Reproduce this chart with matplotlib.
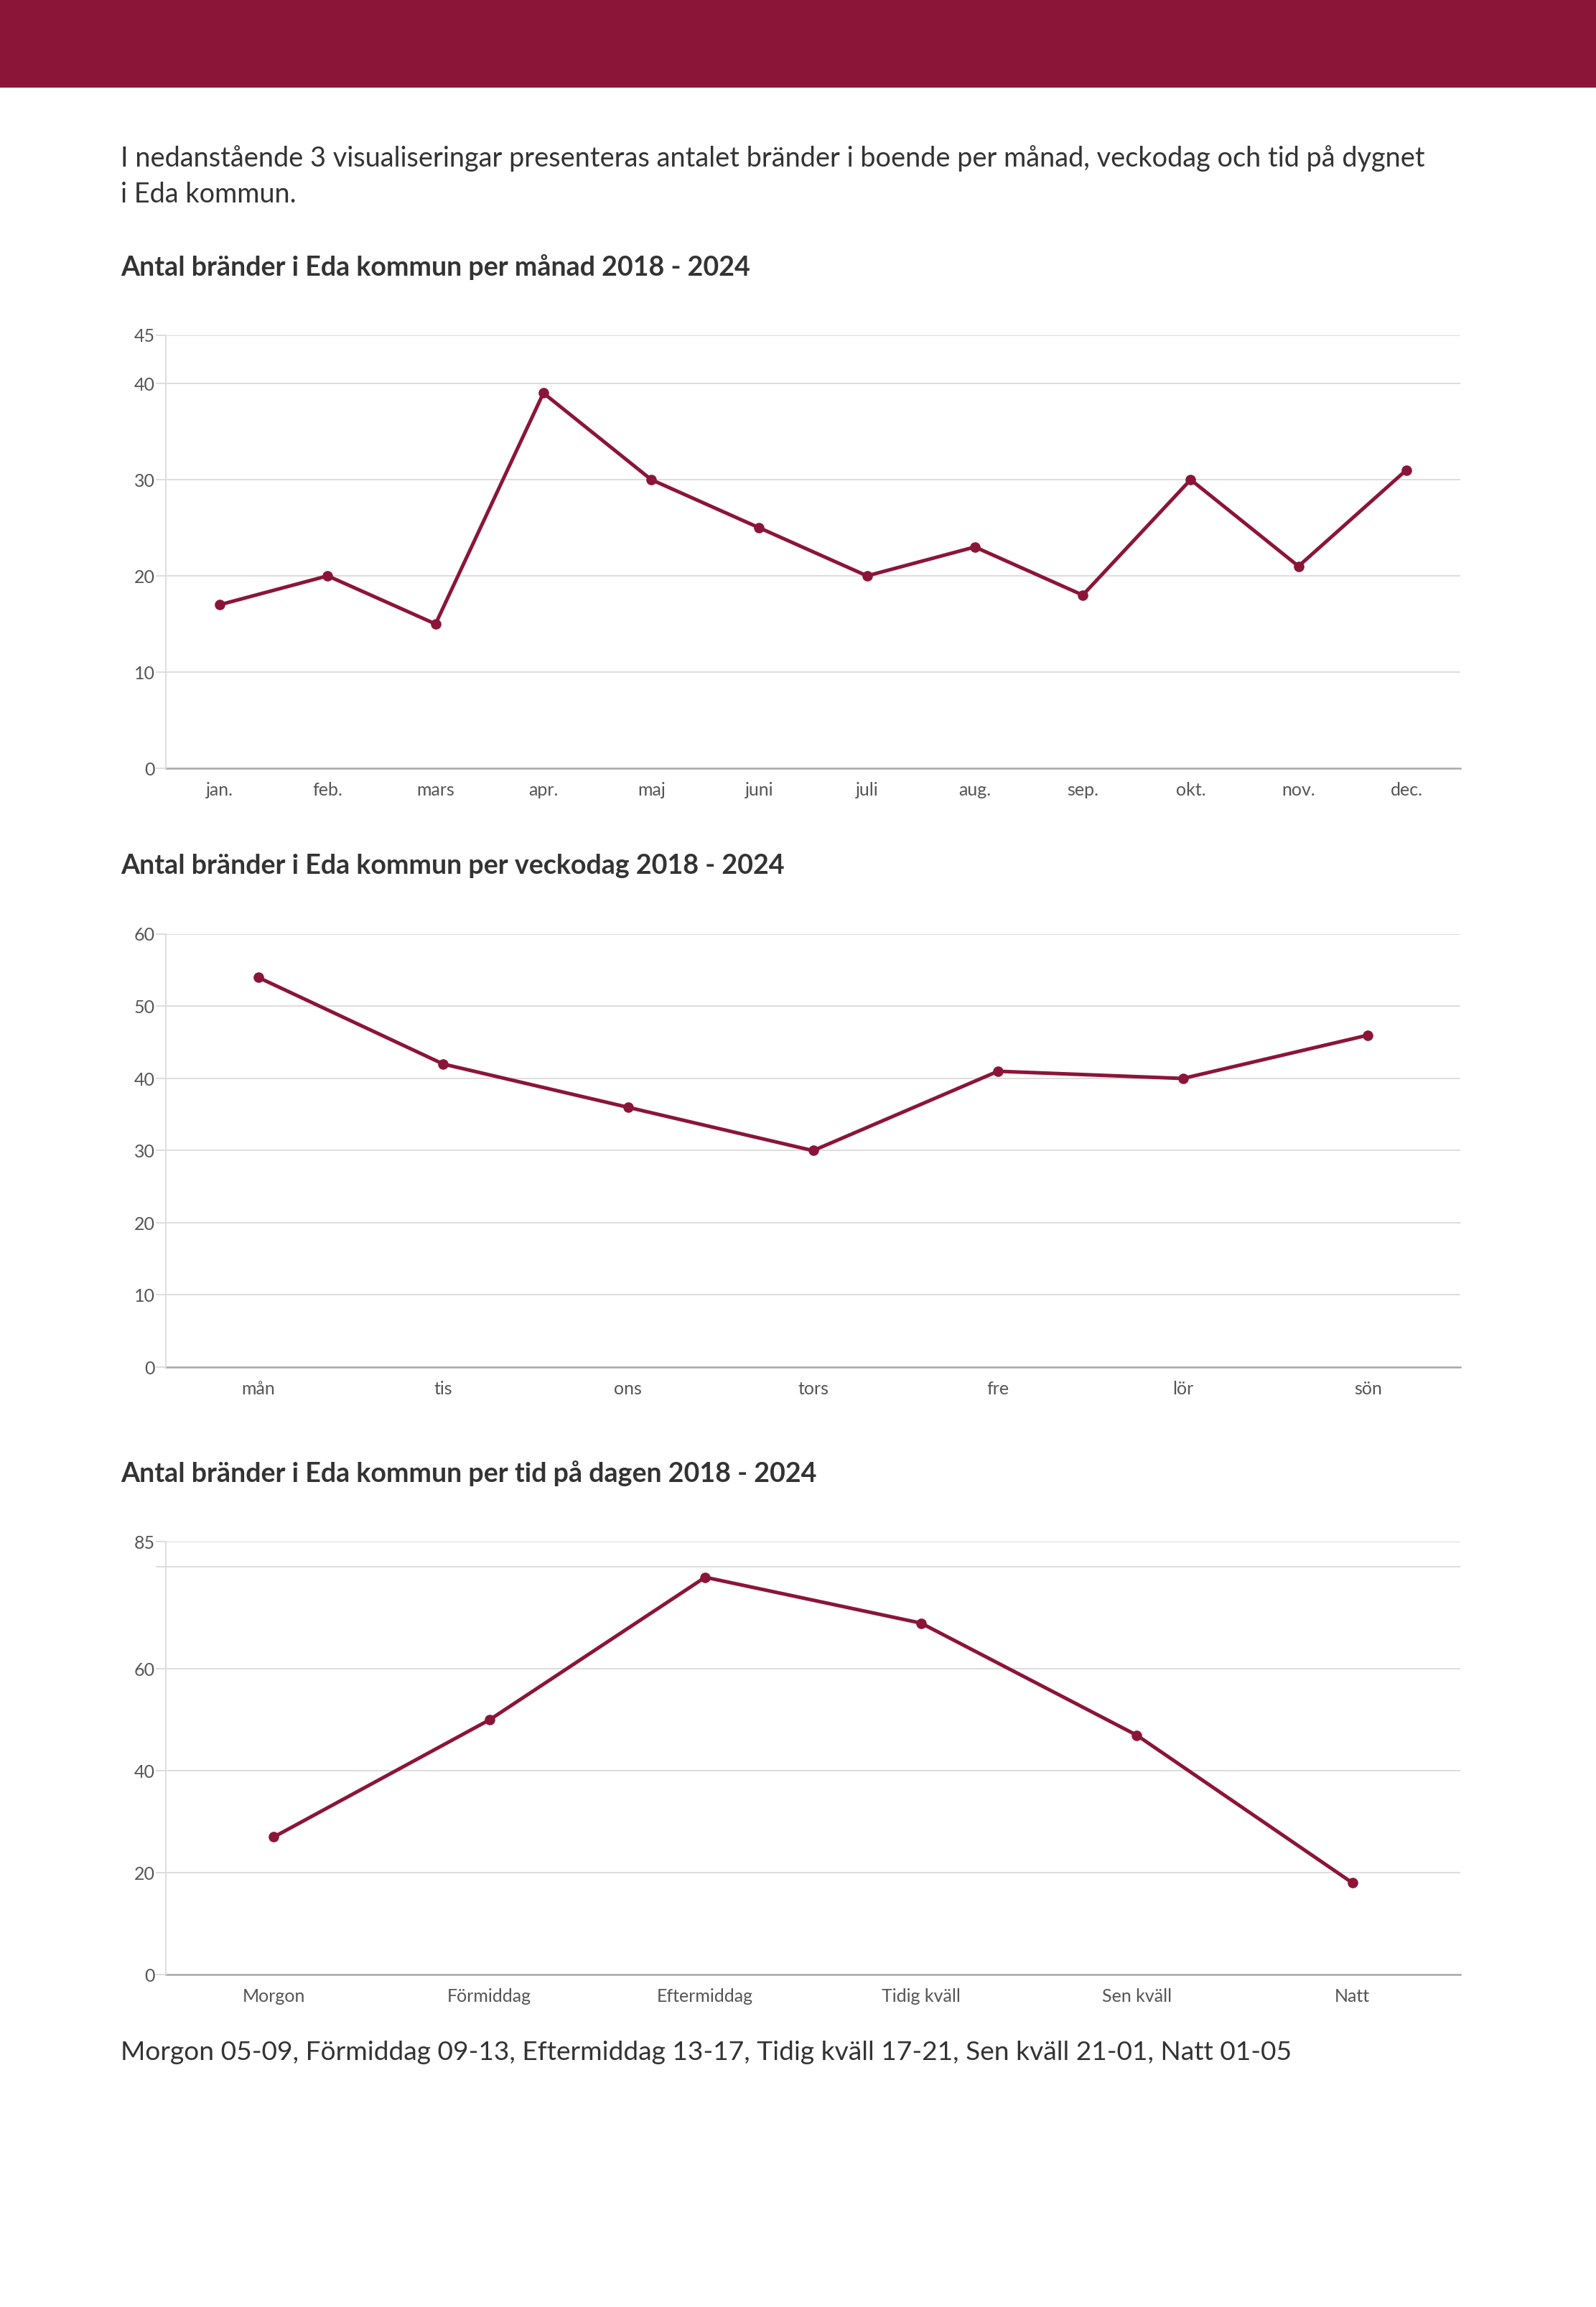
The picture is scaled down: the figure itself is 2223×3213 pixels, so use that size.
import matplotlib
matplotlib.use("Agg")
import matplotlib.pyplot as plt
from matplotlib.patches import Rectangle

plt.rcParams['font.family'] = ['Lato', 'DejaVu Sans']

W, H = 2223, 3213
RED = '#8b1538'
TXT = '#333333'
TICK = '#555555'

# data
months = ['jan.', 'feb.', 'mars', 'apr.', 'maj', 'juni', 'juli', 'aug.', 'sep.', 'okt.', 'nov.', 'dec.']
month_vals = [17, 20, 15, 39, 30, 25, 20, 23, 18, 30, 21, 31]

days = ['mån', 'tis', 'ons', 'tors', 'fre', 'lör', 'sön']
day_vals = [54, 42, 36, 30, 41, 40, 46]

periods = ['Morgon', 'Förmiddag', 'Eftermiddag', 'Tidig kväll', 'Sen kväll', 'Natt']
period_vals = [27, 50, 78, 69, 47, 18]

fig = plt.figure(figsize=(W / 100, H / 100), dpi=100)
fig.patch.set_facecolor('white')


def px(x, y):
    # pixel coords (from top-left) -> figure fraction
    return x / W, 1 - y / H


def add_chart(top, bottom, labels, vals, ymax, yticks, ylabels):
    left, right = 231, 2034
    ax = fig.add_axes([left / W, 1 - bottom / H, (right - left) / W, (bottom - top) / H])
    x = list(range(len(labels)))
    ax.plot(x, vals, color=RED, lw=3.6, marker='o', ms=9.5, zorder=3, solid_joinstyle='round')
    ax.set_xlim(-0.5, len(labels) - 0.5)
    ax.set_ylim(0, ymax)
    ax.set_yticks(yticks)
    ax.set_yticklabels(ylabels)
    ax.set_xticks(x)
    ax.set_xticklabels(labels)
    for yv in yticks:
        ax.axhline(yv, color='#dddddd', lw=1.4, zorder=1)
    for s in ['top', 'right']:
        ax.spines[s].set_visible(False)
    ax.spines['left'].set_color('#dddddd')
    ax.spines['left'].set_linewidth(1.4)
    ax.spines['bottom'].set_color('#aaaaaa')
    ax.spines['bottom'].set_linewidth(1.8)
    ax.spines['bottom'].set_zorder(2)
    ax.tick_params(axis='y', length=10, width=1.4, color='#dddddd', pad=1,
                   labelsize=18, labelcolor=TICK)
    ax.tick_params(axis='x', length=0, pad=14, labelsize=18, labelcolor=TICK)
    return ax


# header band
fig.patches.append(Rectangle((0, 1 - 122 / H), 1, 122 / H, transform=fig.transFigure,
                             facecolor=RED, edgecolor='none'))

fig.text(*px(168, 221), 'I nedanstående 3 visualiseringar presenteras antalet bränder i boende per månad, veckodag och tid på dygnet',
         fontsize=27.3, color=TXT, va='center', ha='left')
fig.text(*px(168, 271), 'i Eda kommun.', fontsize=27.3, color=TXT, va='center', ha='left')

fig.text(*px(168, 372), 'Antal bränder i Eda kommun per månad 2018 - 2024',
         fontsize=27.1, fontweight='bold', color=TXT, va='center', ha='left')
add_chart(467, 1070, months, month_vals, 45, [0, 10, 20, 30, 40, 45],
          ['0', '10', '20', '30', '40', '45'])

fig.text(*px(168, 1206), 'Antal bränder i Eda kommun per veckodag 2018 - 2024',
         fontsize=27.1, fontweight='bold', color=TXT, va='center', ha='left')
add_chart(1301, 1904, days, day_vals, 60, [0, 10, 20, 30, 40, 50, 60],
          ['0', '10', '20', '30', '40', '50', '60'])

fig.text(*px(168, 2052), 'Antal bränder i Eda kommun per tid på dagen 2018 - 2024',
         fontsize=27.1, fontweight='bold', color=TXT, va='center', ha='left')
add_chart(2147, 2750, periods, period_vals, 85, [0, 20, 40, 60, 80, 85],
          ['0', '20', '40', '60', '', '85'])

fig.text(*px(168, 2858), 'Morgon 05-09, Förmiddag 09-13, Eftermiddag 13-17, Tidig kväll 17-21, Sen kväll 21-01, Natt 01-05',
         fontsize=26.7, color=TXT, va='center', ha='left')

fig.savefig('out.png', dpi=100, facecolor='white')
